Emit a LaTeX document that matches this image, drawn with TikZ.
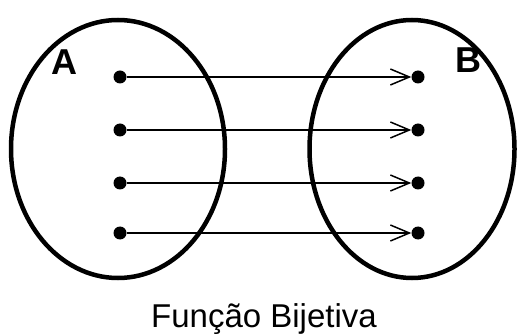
\documentclass[tikz,border=0pt]{standalone}
\usepackage{fontspec}
\setmainfont{Liberation Sans}
\usetikzlibrary{shapes.geometric,arrows.meta}

\begin{document}
\begin{tikzpicture}[x=1pt, y=-1pt, >={Straight Barb[length=19pt,width=16pt,line width=1.5pt]}]
			\useasboundingbox (0,0) rectangle (518,336);
			
			% Sets
			\node[ellipse, draw=black, line width=4.5pt, minimum width=214pt, minimum height=258pt, inner sep=0pt] (setA) at (118,149) {};
			\node[ellipse, draw=black, line width=4.5pt, minimum width=205pt, minimum height=258pt, inner sep=0pt] (setB) at (412,149) {};
			\node[anchor=base, font=\bfseries\fontsize{36}{36}\selectfont] (labA) at (64,75) {A};
			\node[anchor=base, font=\bfseries\fontsize{36}{36}\selectfont] (labB) at (468,73) {B};
			
			% Elements
			\foreach \i/\y in {1/77,2/130,3/183,4/233} {
				\node[circle, fill=black, inner sep=0pt, minimum size=13pt] (A-\i) at (120,\y) {};
				\node[circle, fill=black, inner sep=0pt, minimum size=13pt] (B-\i) at (418,\y) {};
			}
			
			% Mapping
			\foreach \i in {1,...,4} {
				\draw[->, line width=1.6pt] (A-\i) -- (B-\i);
			}
			
			\node[anchor=base, font=\fontsize{33}{33}\selectfont] (title) at (264,327) {Função Bijetiva};
		\end{tikzpicture}
\end{document}
